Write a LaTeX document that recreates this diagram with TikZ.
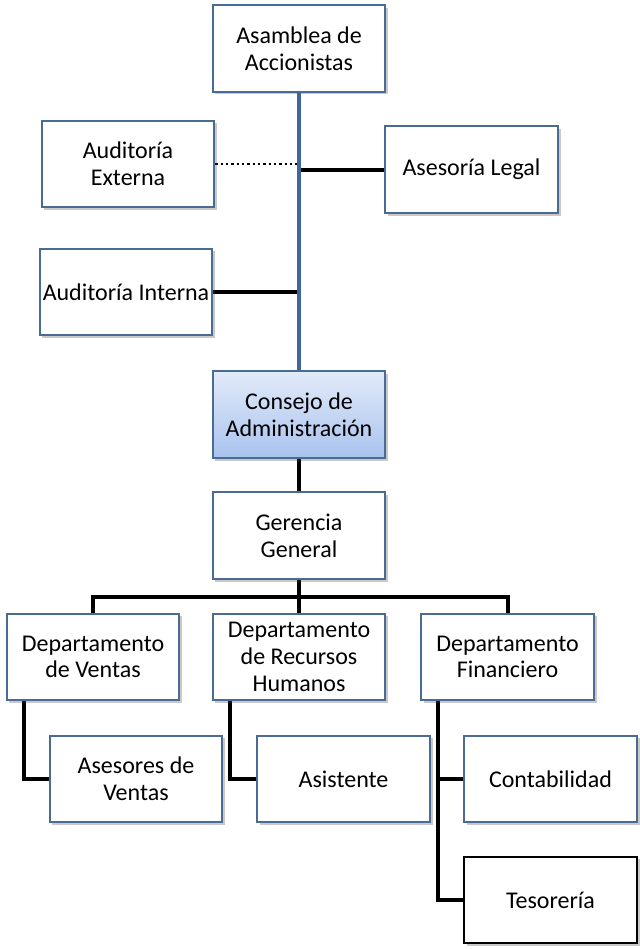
\documentclass[tikz,border=0pt]{standalone}
\usepackage{fontspec}
\setmainfont{Carlito}
\usetikzlibrary{shadows,backgrounds}
\definecolor{bdr}{HTML}{4A6B94}
\definecolor{bline}{HTML}{3E679B}
\definecolor{ctop}{HTML}{E2EAF9}
\definecolor{cbot}{HTML}{A9C3EE}
\begin{document}
\begin{tikzpicture}[x=0.75pt,y=-0.75pt,
  box/.style={draw=bdr, line width=1.3pt, fill=white, minimum width=129.5pt,
    minimum height=65pt, align=center, inner sep=1pt,
    font=\fontsize{18}{20}\selectfont,
    drop shadow={shadow xshift=2pt, shadow yshift=-2pt, opacity=0.3, fill=black!70}},
  conn/.style={line width=3pt, black},
  blueline/.style={line width=3.6pt, bline},
  dotline/.style={line width=2pt, dash pattern=on 1.8pt off 2.2pt},
]
\useasboundingbox (0,0) rectangle (639,949);

\node[box] (asm) at (299,48.5) {Asamblea de\\Accionistas};
\node[box] (aext) at (128,164) {Auditoría\\Externa};
\node[box] (legal) at (471.5,169.5) {Asesoría Legal};
\node[box] (aint) at (126,292) {Auditoría Interna};
\node[box, shading=axis, top color=ctop, bottom color=cbot] (cons) at (299,414.5) {Consejo de\\Administración};
\node[box] (ger) at (299,535.5) {Gerencia\\General};
\node[box] (dv) at (93,657) {Departamento\\de Ventas};
\node[box] (drh) at (299,657) {Departamento\\de Recursos\\Humanos};
\node[box] (df) at (507.5,657) {Departamento\\Financiero};
\node[box] (ase) at (136,779) {Asesores de\\Ventas};
\node[box] (asis) at (343.5,779) {Asistente};
\node[box] (cont) at (550.5,779) {Contabilidad};
\node[box, draw=black, line width=1.5pt] (tes) at (550.5,900) {Tesorería};

\coordinate (hb) at (299,597);

\begin{scope}[on background layer]
  \draw[dotline] (aext.east) -- (aext.east -| asm.south);
  \draw[conn] (legal.west) -- (legal.west -| asm.south);
  \draw[conn] (aint.east) -- (aint.east -| asm.south);
  \draw[blueline] (asm.south) -- (cons.north);
  \draw[conn] (cons.south) -- (ger.north);
  \draw[conn] (ger.south) -- (hb);
  \draw[conn] (dv.north) -- (dv.north |- hb) -- (df.north |- hb) -- (df.north);
  \draw[conn] (drh.north) -- (drh.north |- hb);
  \draw[conn] (dv.south west) ++(18,0) |- (ase.west);
  \draw[conn] (drh.south west) ++(18,0) |- (asis.west);
  \draw[conn] (df.south west) ++(18,0) |- (cont.west);
  \draw[conn] (df.south west) ++(18,0) |- (tes.west);
\end{scope}
\end{tikzpicture}
\end{document}
